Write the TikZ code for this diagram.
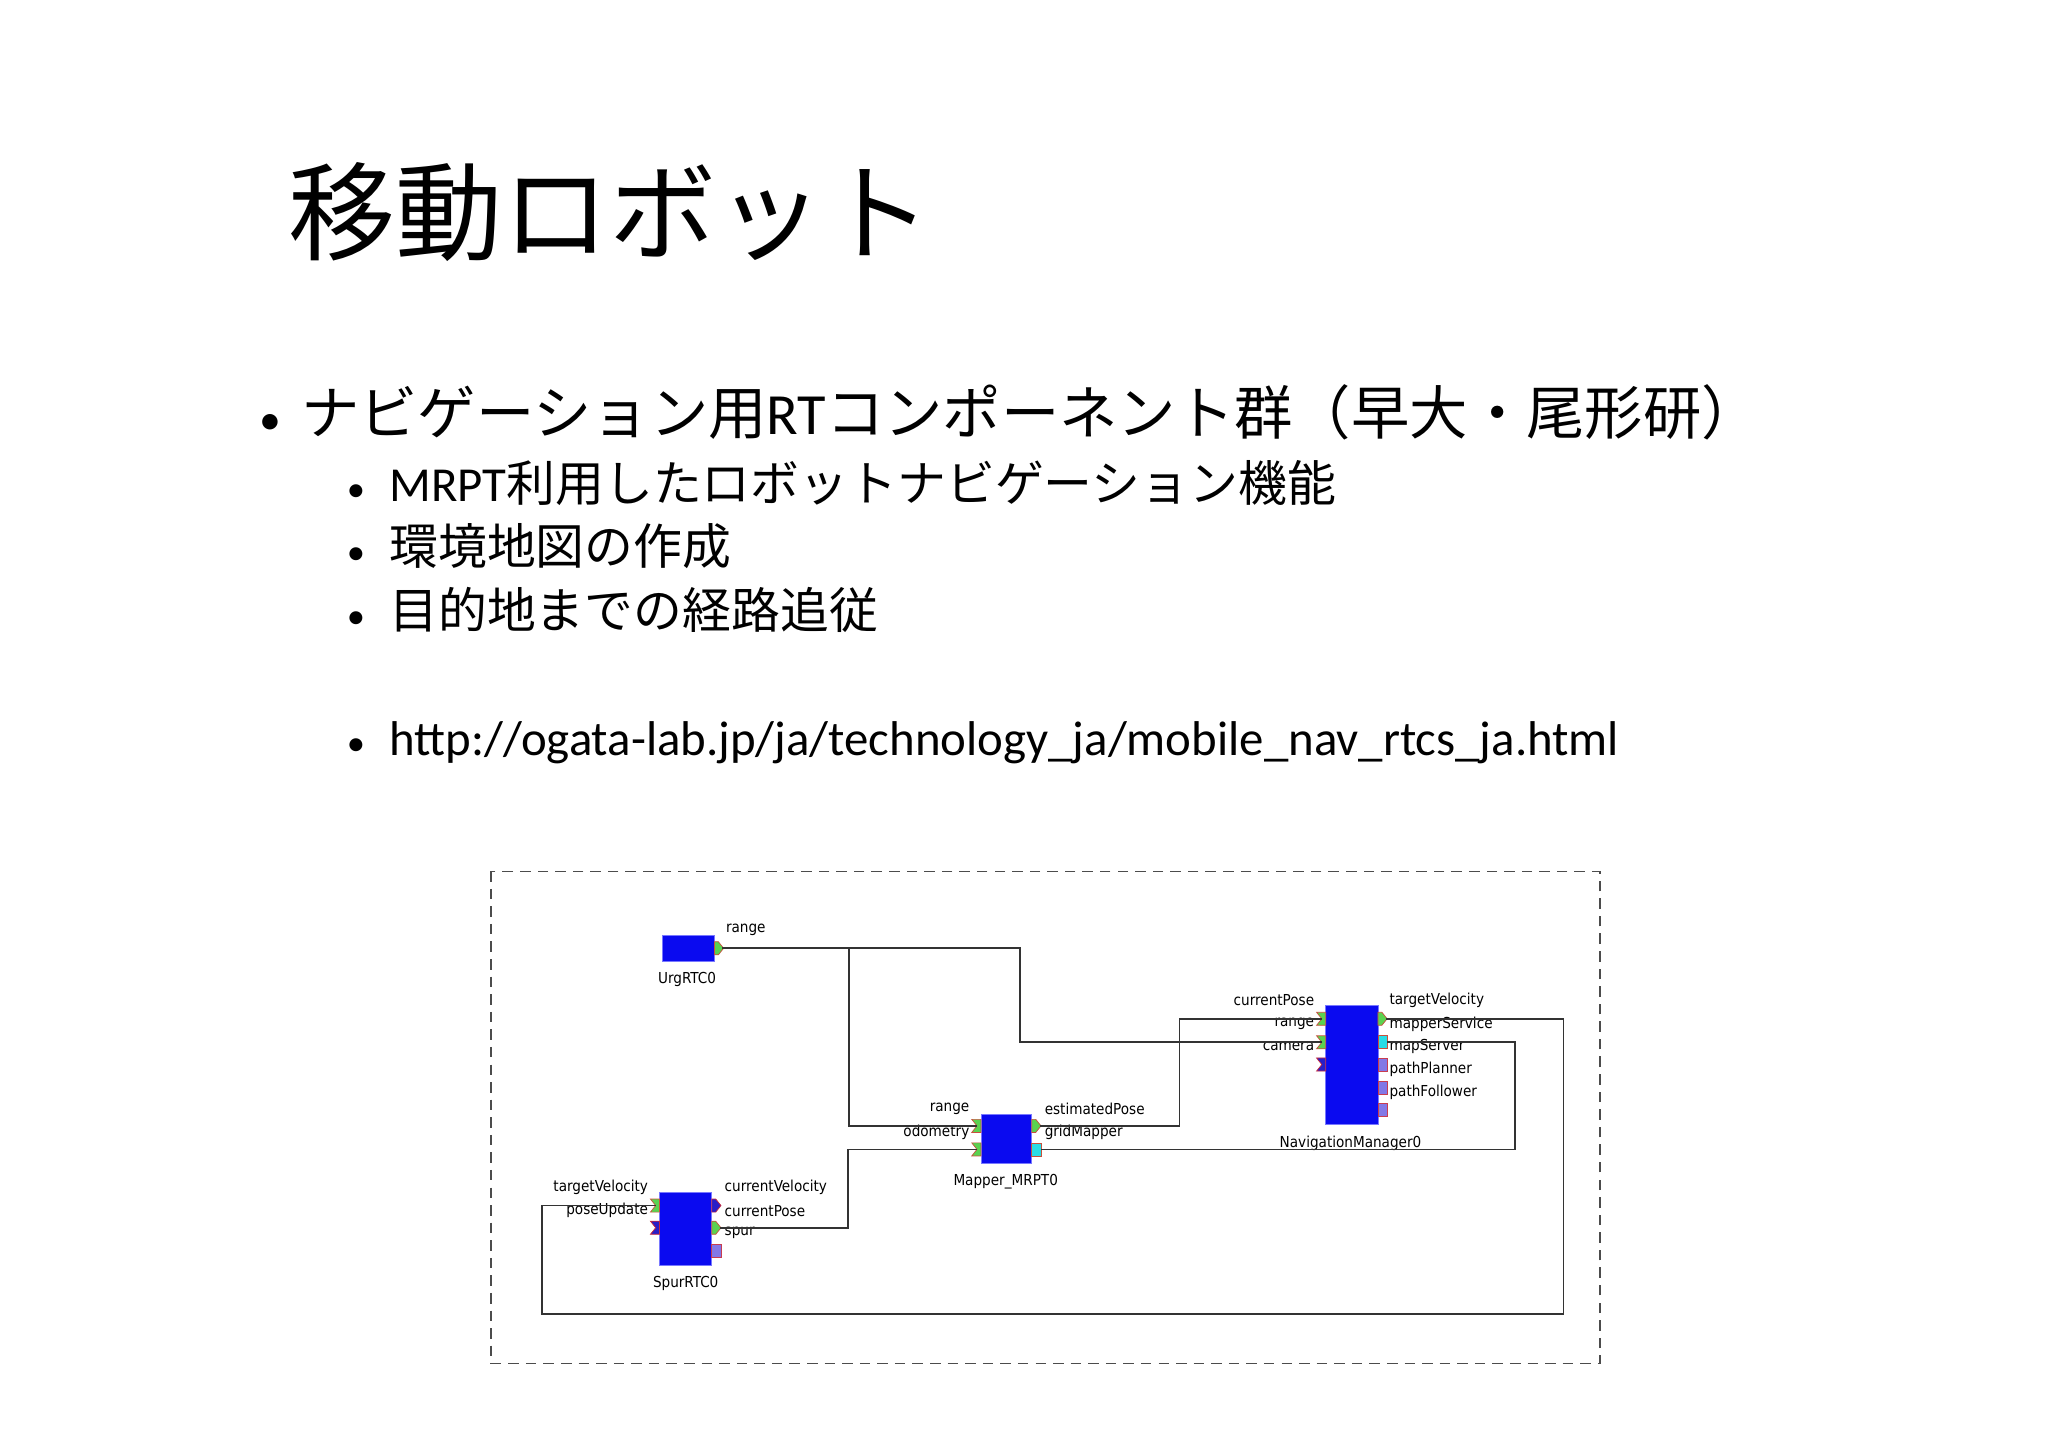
\documentclass[tikz,border=0pt]{standalone}
\usepackage{fontspec}
\setmainfont{Carlito}
\newfontfamily\cjk{Noto Sans CJK JP}
\newfontfamily\lbl{DejaVu Sans Condensed}
\tikzset{rtc/.style={fill={rgb,255:red,10;green,10;blue,240},draw={rgb,255:red,120;green,120;blue,255},line width=0.2pt}}
\tikzset{pin/.style={fill={rgb,255:red,90;green,210;blue,80},draw={rgb,255:red,200;green,80;blue,60},line width=0.2pt}}
\tikzset{pev/.style={fill={rgb,255:red,40;green,30;blue,200},draw={rgb,255:red,200;green,40;blue,60},line width=0.2pt}}
\tikzset{psv/.style={fill={rgb,255:red,40;green,220;blue,230},draw={rgb,255:red,200;green,80;blue,60},line width=0.2pt}}
\tikzset{ppl/.style={fill={rgb,255:red,130;green,120;blue,230},draw={rgb,255:red,200;green,60;blue,80},line width=0.2pt}}
\tikzset{wire/.style={draw=black!80,line width=0.5pt}}
\tikzset{pl/.style={font=\lbl\fontsize{4.3}{5}\selectfont,inner sep=0.5pt}}
% ports: name, x, y, style
\newcommand{\inport}[4]{\path[#4] (#2-7,#3-5) -- (#2,#3-5) -- (#2,#3+5) -- (#2-7,#3+5) -- (#2-3,#3) -- cycle;
  \coordinate (#1) at (#2-3,#3);}
\newcommand{\outport}[4]{\path[#4] (#2,#3-5) -- (#2+3,#3-5) -- (#2+7,#3) -- (#2+3,#3+5) -- (#2,#3+5) -- cycle;
  \coordinate (#1) at (#2+6,#3);}
\newcommand{\svport}[4]{\path[#4] (#2,#3-5) rectangle (#2+7,#3+5);
  \coordinate (#1) at (#2+7,#3);}
\newcommand{\bul}[1]{\makebox[#1][l]{\scalebox{0.75}{•}}}
\begin{document}
\begin{tikzpicture}[x=0.013061cm,y=-0.013061cm]
\useasboundingbox[fill=white] (0,0) rectangle (1568,1108);
% title and bullets
\node[anchor=west,inner sep=0] (title) at (220,162) {\cjk\fontsize{30.5}{33}\selectfont 移動ロボット};
\node[anchor=west,inner sep=0] (b1) at (198,316) {\fontsize{16.6}{19}\selectfont \bul{11.9pt}\cjk ナビゲーション用\normalfont RT\cjk コンポーネント群（早大・尾形研）};
\node[anchor=west,inner sep=0] (b2) at (265,370) {\fontsize{13.9}{16}\selectfont \bul{12.1pt}MRPT\cjk 利用したロボットナビゲーション機能};
\node[anchor=west,inner sep=0] (b3) at (265,418) {\fontsize{13.9}{16}\selectfont \bul{12.1pt}\cjk 環境地図の作成};
\node[anchor=west,inner sep=0] (b4) at (265,467) {\fontsize{13.9}{16}\selectfont \bul{12.1pt}\cjk 目的地までの経路追従};
\node[anchor=west,inner sep=0] (b5) at (265,569) {\fontsize{13.9}{16}\selectfont \bul{12.1pt}http://ogata-lab.jp/ja/technology\_ja/mobile\_nav\_rtcs\_ja.html};
% frame
\draw[densely dashed,line width=0.4pt,black!70] (376,667) rectangle (1225,1044);
% components
\path[rtc] (507,716) rectangle (547,736);
\node[pl] (urg) at (526,750) {UrgRTC0};
\outport{urgR}{547}{726}{pin}
\node[pl,anchor=west] at (554,712) {range};
\path[rtc] (751,853) rectangle (790,891);
\node[pl] (map) at (770,905) {Mapper\_MRPT0};
\inport{mapR}{751}{862}{pin}
\inport{mapO}{751}{880}{pin}
\outport{mapE}{790}{862}{pin}
\svport{mapG}{790}{880}{psv}
\node[pl,anchor=east] at (744,849) {range};
\node[pl,anchor=east] at (744,867) {odometry};
\node[pl,anchor=west] at (798,849) {estimatedPose};
\node[pl,anchor=west] at (798,867) {gridMapper};
\path[rtc] (1015,770) rectangle (1055,861);
\node[pl] (nav) at (1034,875) {NavigationManager0};
\inport{navP}{1015}{780}{pin}
\inport{navR}{1015}{798}{pin}
\inport{navC}{1015}{815}{pev}
\outport{navT}{1055}{780}{pin}
\svport{navM}{1055}{798}{psv}
\svport{navS}{1055}{815}{ppl}
\svport{navA}{1055}{833}{ppl}
\svport{navF}{1055}{850}{ppl}
\node[pl,anchor=east] at (1008,766) {currentPose};
\node[pl,anchor=east] at (1008,784) {range};
\node[pl,anchor=east] at (1008,801) {camera};
\node[pl,anchor=west] at (1062,766) {targetVelocity};
\node[pl,anchor=west] at (1062,784) {mapperService};
\node[pl,anchor=west] at (1062,801) {mapServer};
\node[pl,anchor=west] at (1062,819) {pathPlanner};
\node[pl,anchor=west] at (1062,836) {pathFollower};
\path[rtc] (505,913) rectangle (545,969);
\node[pl] (spur) at (525,983) {SpurRTC0};
\inport{spT}{505}{923}{pin}
\inport{spP}{505}{940}{pev}
\outport{spV}{545}{923}{pev}
\outport{spS}{545}{940}{pin}
\svport{spU}{545}{958}{ppl}
\node[pl,anchor=east] at (498,909) {targetVelocity};
\node[pl,anchor=east] at (498,927) {poseUpdate};
\node[pl,anchor=west] at (553,909) {currentVelocity};
\node[pl,anchor=west] at (553,927) {currentPose};
\node[pl,anchor=west] at (553,944) {spur};
% connectors
\draw[wire] (urgR) -| (650,862) -- (mapR);
\draw[wire] (urgR) -- (781,726) |- (navR);
\draw[wire] (navM) -- (1160,798) |- (mapG);
\draw[wire] (mapE) -- (903,862) |- (navP);
\draw[wire] (navT) -- (1197,780) |- (415,1006) |- (spT);
\draw[wire] (spS) -- (649,940) |- (mapO);
\end{tikzpicture}
\end{document}
